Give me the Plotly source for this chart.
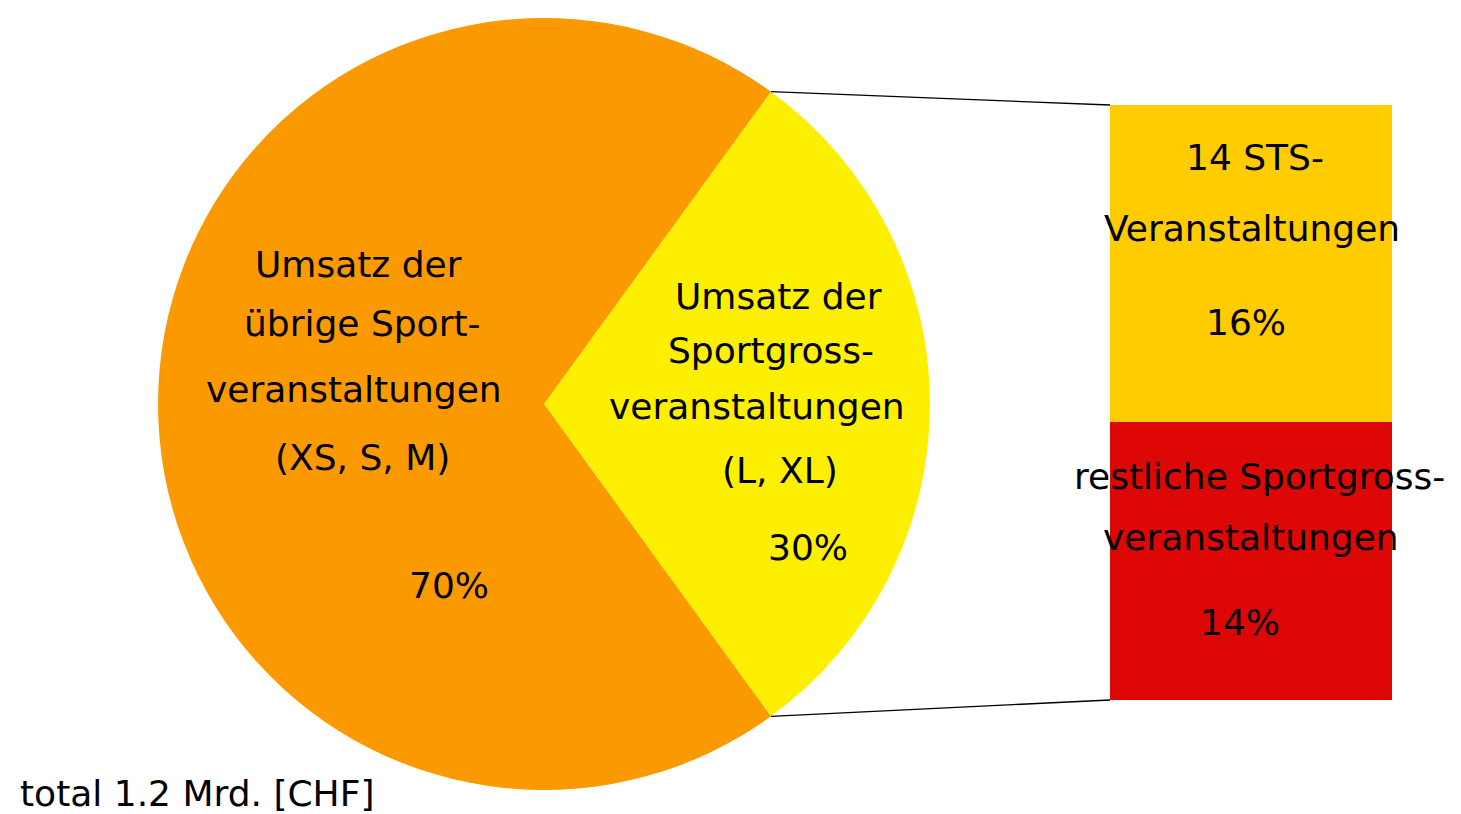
import math
import plotly.graph_objects as go

# ---------------- data ----------------
pie_labels = ["Umsatz der Sportgrossveranstaltungen (L, XL)",
              "Umsatz der übrige Sportveranstaltungen (XS, S, M)"]
pie_values = [30, 70]
pie_colors = ["#FCF000", "#FB9A00"]

bar_labels = ["restliche Sportgrossveranstaltungen", "14 STS-Veranstaltungen"]
bar_values = [14, 16]
bar_colors = ["#DD0805", "#FFCC00"]

small_lines = ["Umsatz der", "Sportgross-", "veranstaltungen", "(L, XL)", "30%"]
big_lines = ["Umsatz der", "übrige Sport-", "veranstaltungen", "(XS, S, M)", "70%"]
sts_lines = ["14 STS-", "Veranstaltungen", "16%"]
rest_lines = ["restliche Sportgross-", "veranstaltungen", "14%"]
total_text = "total 1.2 Mrd. [CHF]"

# ---------------- layout geometry (window pixels) ----------------
OFF = 8                      # default page body margin
W, H = 1461 - OFF, 814 - OFF
CX, CY, R = 544, 404, 386
BAR_L, BAR_R, BAR_T, BAR_B = 1110, 1392, 105, 700

def px(x):
    return (x - OFF) / W

def py(y):
    return 1 - (y - OFF) / H

FONT = dict(family="DejaVu Sans, Verdana, sans-serif", size=36, color="black")

fig = go.Figure()

# pie: first slice (small part) centred on 3 o'clock
half = pie_values[0] / sum(pie_values) * 180.0
fig.add_trace(go.Pie(
    labels=pie_labels, values=pie_values, sort=False, direction="clockwise",
    rotation=90 - half,
    marker=dict(colors=pie_colors, line=dict(width=0)),
    textinfo="none", hoverinfo="label+percent", showlegend=False,
    domain=dict(x=[px(CX - R), px(CX + R)], y=[py(CY + R), py(CY - R)]),
))

# stacked bar
for lab, val, col in zip(bar_labels, bar_values, bar_colors):
    fig.add_trace(go.Bar(
        x=["STS"], y=[val], name=lab, width=1,
        marker=dict(color=col, line=dict(width=0)),
        showlegend=False, hoverinfo="name+y",
    ))

fig.update_layout(
    barmode="stack",
    width=W, height=H,
    margin=dict(l=0, r=0, t=0, b=0),
    paper_bgcolor="white", plot_bgcolor="white",
    xaxis=dict(domain=[px(BAR_L), px(BAR_R)], range=[-0.5, 0.5], visible=False),
    yaxis=dict(domain=[py(BAR_B), py(BAR_T)], range=[0, sum(bar_values)], visible=False),
    font=FONT,
)

# connector lines from pie slice edges to bar corners
a = math.radians(half)
ex = CX + R * math.cos(a)
ey_top = CY - R * math.sin(a)
ey_bot = CY + R * math.sin(a)
for (y0, y1) in [(ey_top, BAR_T), (ey_bot, BAR_B)]:
    fig.add_shape(type="line", xref="paper", yref="paper",
                  x0=px(ex), y0=py(y0), x1=px(BAR_L), y1=py(y1),
                  line=dict(color="black", width=1.3))

def add_lines(lines, xs, ys):
    for t, x, y in zip(lines, xs, ys):
        fig.add_annotation(text=t, x=px(x), y=py(y), xref="paper", yref="paper",
                           showarrow=False, font=FONT, xanchor="center", yanchor="middle")

add_lines(big_lines, [358, 362, 354, 362, 449], [265, 323, 390, 457, 585])
add_lines(small_lines, [778, 771, 757, 780, 808], [296, 351, 407, 470, 547])
add_lines(sts_lines, [1255, 1252, 1246], [157, 228, 322])
add_lines(rest_lines, [1259, 1251, 1240], [476, 537, 622])

fig.add_annotation(text=total_text, x=px(18), y=py(793), xref="paper", yref="paper",
                   showarrow=False, font=FONT, xanchor="left", yanchor="middle")

fig.write_html("out.html")
